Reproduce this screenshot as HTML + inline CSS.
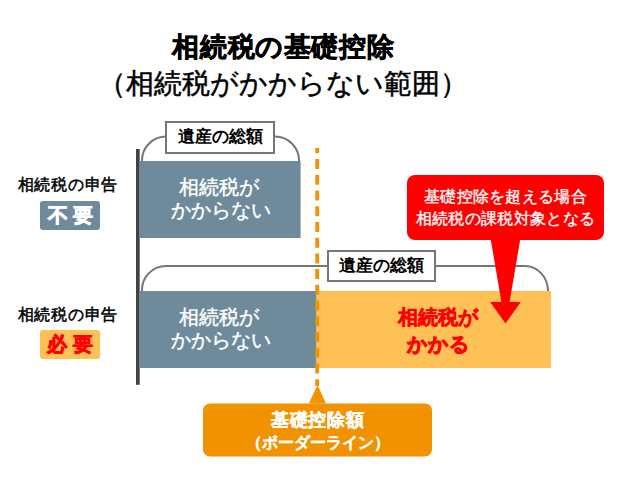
<!DOCTYPE html>
<html lang="ja">
<head>
<meta charset="utf-8">
<style>
html,body{margin:0;padding:0;background:#fff;}
body{width:621px;height:490px;position:relative;overflow:hidden;font-family:"Liberation Sans",sans-serif;color:#000;}
.a{position:absolute;white-space:nowrap;}
.t1{left:0;width:566px;top:30px;font-size:27px;letter-spacing:0.6px;text-indent:0.6px;font-weight:bold;line-height:34px;text-align:center;-webkit-text-stroke:0.6px #000;}
.t2{left:0;width:566px;top:67px;font-size:28px;line-height:34px;text-align:center;-webkit-text-stroke:0.5px #000;}
.lbl{font-size:16px;letter-spacing:0.75px;line-height:20px;-webkit-text-stroke:0.5px #000;}
.gbox{background:#6f8b9b;}
.gtxt{color:#fff;font-size:20px;line-height:23px;text-align:center;-webkit-text-stroke:0.4px #fff;}
.tag{border-radius:3px;font-size:20px;font-weight:bold;line-height:29px;text-align:center;-webkit-text-stroke:0.75px currentColor;}
.lab{background:#fff;border:2px solid #767676;box-sizing:border-box;font-size:17px;font-weight:bold;line-height:27.5px;text-align:center;}
</style>
</head>
<body>
<div class="a t1">相続税の基礎控除</div>
<div class="a t2">（相続税がかからない範囲）</div>

<svg class="a" style="left:0;top:0" width="621" height="490" viewBox="0 0 621 490">
  <!-- vertical axis -->
  <rect x="136" y="149" width="3.7" height="235.8" fill="#424242"/>
  <!-- top grey box -->
  <rect x="139.6" y="161" width="161" height="77" fill="#6f8b9b"/>
  <!-- top bracket -->
  <path d="M142 161 A24 24 0 0 1 166 136.5 L275 136.5 A24 24 0 0 1 299 161" fill="none" stroke="#767676" stroke-width="2"/>
  <!-- bottom bracket -->
  <path d="M142 291 A24 24 0 0 1 166 266 L525 266 A23 25 0 0 1 548 291" fill="none" stroke="#767676" stroke-width="2"/>
  <!-- bottom boxes -->
  <rect x="139.6" y="291" width="177" height="77" fill="#6f8b9b"/>
  <rect x="316.6" y="291" width="234.4" height="77" fill="#fdc155"/>
  <!-- dashed orange line -->
  <line x1="317.2" y1="148" x2="317.2" y2="386" stroke="#f39200" stroke-width="3.8" stroke-dasharray="10 5.73" stroke-dashoffset="4.73"/>
  <!-- orange callout -->
  <path d="M308.8 403.5 L317.5 385 L326 403.5 Z" fill="#f39200"/>
  <rect x="203" y="403.5" width="229" height="53" rx="7" fill="#f39200"/>
  <!-- red callout -->
  <rect x="407" y="175" width="197" height="65" rx="8" fill="#ff0000"/>
  <path d="M490.7 239 L520.3 239 L509.6 302 L520.8 302 L505.5 323.5 L490.2 302 L501.4 302 Z" fill="#ff0000"/>
</svg>

<!-- label boxes -->
<div class="a lab" style="left:165px;top:121px;width:110px;height:33px;">遺産の総額</div>
<div class="a lab" style="left:327px;top:250px;width:109px;height:32px;">遺産の総額</div>

<!-- left labels -->
<div class="a lbl" style="left:17.5px;top:174.5px;">相続税の申告</div>
<div class="a tag" style="left:40px;top:200.5px;width:60px;height:29px;background:#6f8b9b;color:#fff;letter-spacing:5px;text-indent:5px;">不要</div>
<div class="a lbl" style="left:17.5px;top:304.5px;">相続税の申告</div>
<div class="a tag" style="left:40px;top:330px;width:60px;height:29px;background:#fdc155;color:#ff0000;letter-spacing:5.5px;text-indent:5.5px;">必要</div>

<!-- grey box texts -->
<div class="a gtxt" style="left:140px;width:161px;top:176px;"><span style="position:relative;left:-2px">相続税が</span><br>かからない</div>
<div class="a gtxt" style="left:140px;width:161px;top:306px;"><span style="position:relative;left:-2px">相続税が</span><br>かからない</div>

<!-- orange box text -->
<div class="a" style="left:380px;width:116px;top:304px;color:#ff0000;font-size:20px;font-weight:bold;line-height:27px;-webkit-text-stroke:0.5px #f00;text-align:center;">相続税が<br><span style="letter-spacing:1.3px;margin-right:-1.3px;-webkit-text-stroke:0.9px #f00;">かかる</span></div>

<!-- red callout text -->
<div class="a" style="left:407px;width:197px;top:186px;color:#fff;font-size:16px;line-height:22px;text-align:center;-webkit-text-stroke:0.35px #fff;letter-spacing:0.3px;">基礎控除を超える場合<br>相続税の課税対象となる</div>

<!-- orange callout text -->
<div class="a" style="left:203px;width:229px;top:408px;color:#fff;font-size:18px;font-weight:bold;line-height:24px;-webkit-text-stroke:0.25px #fff;text-align:center;letter-spacing:0.9px;text-indent:0.9px;">基礎控除額</div>
<div class="a" style="left:203px;width:229px;top:432px;color:#fff;font-size:16px;font-weight:bold;line-height:22px;-webkit-text-stroke:0.25px #fff;text-align:center;">（ボーダーライン）</div>
</body>
</html>
